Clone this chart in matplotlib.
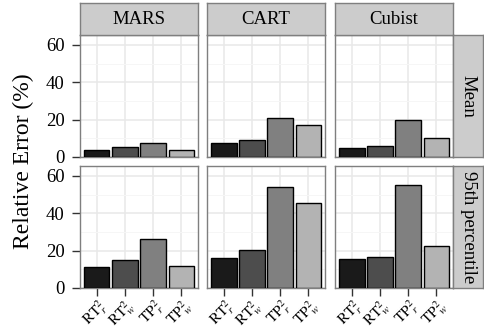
import matplotlib
matplotlib.use('Agg')
import matplotlib.pyplot as plt

plt.rcParams['font.family'] = ['Liberation Serif', 'DejaVu Serif']
plt.rcParams['mathtext.fontset'] = 'stix'

# ---- data ----
methods = ['MARS', 'CART', 'Cubist']
stats = ['Mean', '95th percentile']
xlabels = [r'$\mathrm{RT}^2_r$', r'$\mathrm{RT}^2_w$', r'$\mathrm{TP}^2_r$', r'$\mathrm{TP}^2_w$']
mean_mars = [3.9, 5.4, 7.5, 3.9]
mean_cart = [7.5, 9.1, 20.9, 17.0]
mean_cubist = [5.0, 5.7, 20.0, 10.2]
p95_mars = [11.4, 14.8, 26.4, 11.6]
p95_cart = [16.3, 20.4, 54.1, 45.5]
p95_cubist = [15.5, 16.6, 55.2, 22.7]
yticks = [0, 20, 40, 60]
ylabel = 'Relative Error (%)'

values = [[mean_mars, mean_cart, mean_cubist],
          [p95_mars, p95_cart, p95_cubist]]
colors = ['#1a1a1a', '#4d4d4d', '#808080', '#b3b3b3']

W, H = 484, 333
fig = plt.figure(figsize=(W / 100, H / 100), dpi=100)


def rect(x0, y0, x1, y1):
    return [x0 / W, 1 - y1 / H, (x1 - x0) / W, (y1 - y0) / H]


cols = [(80, 198), (207, 325), (335, 453)]
rows = [(35, 157), (166, 288)]
border = '#7f7f7f'
ymax = 65.3

for r, (y0, y1) in enumerate(rows):
    for c, (x0, x1) in enumerate(cols):
        ax = fig.add_axes(rect(x0, y0, x1, y1))
        xs = list(range(1, len(xlabels) + 1))
        ax.bar(xs, values[r][c], width=0.9, color=colors, edgecolor='black',
               linewidth=1.0, zorder=3)
        ax.set_xlim(0.4, 4.6)
        ax.set_ylim(0, ymax)
        ax.set_yticks(yticks)
        ax.set_yticks([10, 30, 50], minor=True)
        ax.set_xticks(xs)
        ax.grid(which='major', color='#e8e8e8', lw=1.1, zorder=0)
        ax.grid(which='minor', axis='y', color='#f6f6f6', lw=0.7, zorder=0)
        ax.set_axisbelow(True)
        for s in ax.spines.values():
            s.set_color(border)
            s.set_linewidth(1.0)
        ax.tick_params(which='major', length=6, width=1.0, color='#333333',
                       labelsize=13.5)
        ax.tick_params(axis='y', which='major', pad=5)
        ax.tick_params(axis='x', which='major', pad=0)
        ax.tick_params(which='minor', length=0)
        if c == 0:
            ax.set_yticklabels([str(t) for t in yticks])
        else:
            ax.tick_params(axis='y', which='major', length=0, labelleft=False)
        if r == len(rows) - 1:
            ax.set_xticklabels(xlabels, fontsize=11)
            for lab in ax.get_xticklabels():
                lab.set_rotation(45)
                lab.set_ha('right')
                lab.set_va('top')
                lab.set_rotation_mode('anchor')
        else:
            ax.tick_params(axis='x', which='major', length=0, labelbottom=False)

# top strips
for c, (x0, x1) in enumerate(cols):
    sax = fig.add_axes(rect(x0, 3, x1, 35))
    sax.set_facecolor('#cccccc')
    sax.set_xticks([]); sax.set_yticks([])
    for s in sax.spines.values():
        s.set_color(border); s.set_linewidth(1.0)
    sax.text(0.5, 0.5, methods[c], ha='center', va='center', fontsize=13.5,
             transform=sax.transAxes)

# right strips
for r, (y0, y1) in enumerate(rows):
    sax = fig.add_axes(rect(453, y0, 483, y1))
    sax.set_facecolor('#cccccc')
    sax.set_xticks([]); sax.set_yticks([])
    for s in sax.spines.values():
        s.set_color(border); s.set_linewidth(1.0)
    sax.text(0.5, 0.5, stats[r], ha='center', va='center', fontsize=13.5,
             rotation=-90, transform=sax.transAxes)

fig.text(23 / W, 1 - 161 / H, ylabel, rotation=90, fontsize=17,
         ha='center', va='center')

fig.savefig('out.png', dpi=100)
